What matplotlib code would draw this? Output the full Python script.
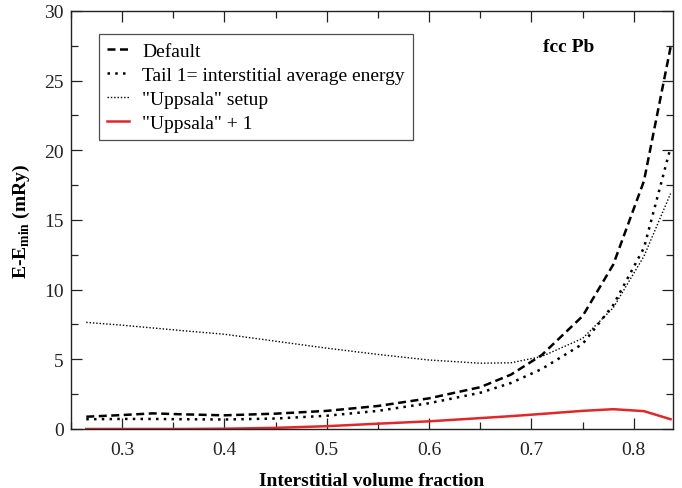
"""Energy vs interstitial volume fraction for fcc Pb, four setups."""

import matplotlib
matplotlib.use("Agg")
import matplotlib.pyplot as plt
from matplotlib.ticker import MultipleLocator

plt.rcParams["font.family"] = ["Liberation Serif", "DejaVu Serif"]
plt.rcParams["mathtext.fontset"] = "custom"
plt.rcParams["mathtext.rm"] = "Liberation Serif"
plt.rcParams["mathtext.bf"] = "Liberation Serif:bold"

# interstitial volume fraction
frac = [0.265, 0.30, 0.33, 0.36, 0.40, 0.45, 0.50, 0.55, 0.60,
        0.65, 0.68, 0.71, 0.75, 0.78, 0.81, 0.836]

# E - E_min in mRy
e_default = [0.88, 1.00, 1.12, 1.05, 0.98, 1.10, 1.30, 1.65, 2.20,
             3.00, 3.90, 5.30, 8.10, 11.8, 17.8, 27.4]
e_tail1 = [0.70, 0.72, 0.72, 0.70, 0.68, 0.75, 0.95, 1.30, 1.85,
           2.60, 3.30, 4.30, 6.10, 8.90, 13.0, 20.2]
e_uppsala = [7.65, 7.45, 7.25, 7.05, 6.80, 6.30, 5.80, 5.35, 4.95,
             4.72, 4.75, 5.20, 6.50, 8.70, 12.4, 16.9]
e_uppsala1 = [0.0, 0.0, 0.0, 0.0, 0.02, 0.08, 0.20, 0.38, 0.55,
              0.78, 0.92, 1.08, 1.30, 1.42, 1.28, 0.70]

labels = ["Default", "Tail 1= interstitial average energy",
          '"Uppsala" setup', '"Uppsala" + 1']

fig = plt.figure(figsize=(6.82, 4.89), dpi=100)
ax = fig.add_axes([0.104, 0.1207, 0.883, 0.8548])

ax.plot(frac, e_default, color="black", lw=1.8, ls=(0, (3.2, 1.8)),
        label=labels[0])
ax.plot(frac, e_tail1, color="black", lw=1.8, ls=(0, (1.0, 2.1)),
        label=labels[1])
ax.plot(frac, e_uppsala, color="black", lw=1.0, ls=(0, (1.0, 1.4)),
        label=labels[2])
ax.plot(frac, e_uppsala1, color="#e0282a", lw=1.8, label=labels[3])

ax.set_xlim(0.25, 0.8385)
ax.set_ylim(0, 30)
ax.xaxis.set_major_locator(MultipleLocator(0.1))
ax.xaxis.set_minor_locator(MultipleLocator(0.05))
ax.yaxis.set_major_locator(MultipleLocator(5))
ax.yaxis.set_minor_locator(MultipleLocator(2.5))
ax.tick_params(which="both", direction="in", top=True, right=True,
               labelsize=14, width=0.9, colors="#222222", labelcolor="#222222")
ax.tick_params(which="major", length=8)
ax.tick_params(which="minor", length=5)
ax.tick_params(axis="x", which="major", pad=8.5)
ax.tick_params(axis="y", which="major", pad=5)
for sp in ax.spines.values():
    sp.set_linewidth(1.0)
    sp.set_color("#222222")

ax.set_xlabel("Interstitial volume fraction", fontsize=14, fontweight="bold",
              labelpad=10)
ax.set_ylabel(r"E-E$_{\mathbf{min}}$ (mRy)", fontsize=14, fontweight="bold",
              labelpad=9)

ax.text(0.826, 0.914, "fcc Pb", transform=ax.transAxes, fontsize=14,
        fontweight="bold", ha="center", va="center")

leg = ax.legend(loc="upper left", bbox_to_anchor=(0.0465, 0.945),
                fontsize=14, frameon=True, fancybox=False, handlelength=1.15,
                handletextpad=0.65, labelspacing=0.33, borderpad=0.42,
                borderaxespad=0)
leg.get_frame().set_edgecolor("#222222")
leg.get_frame().set_linewidth(0.9)

fig.savefig("out.png", dpi=100)
